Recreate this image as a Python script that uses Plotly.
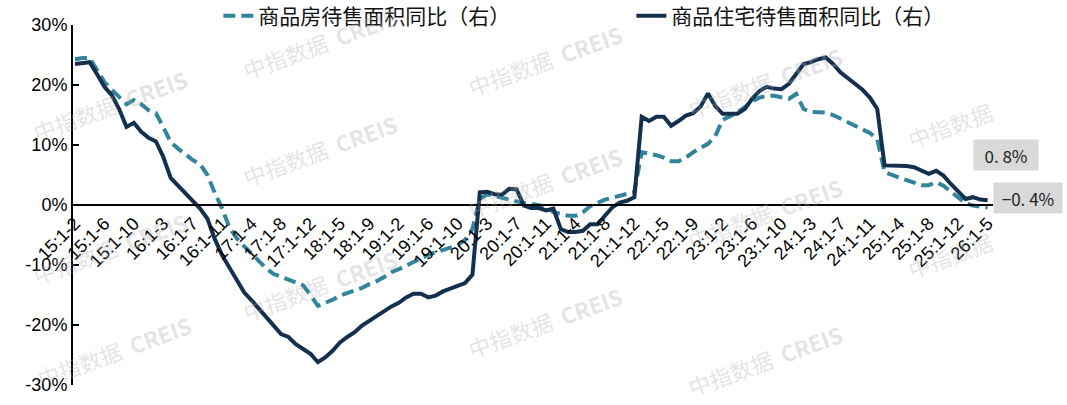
import plotly.graph_objects as go

# ---------------- data ----------------
years = list(range(15, 27))
months = ["1-2", "1-3", "1-4", "1-5", "1-6", "1-7", "1-8", "1-9", "1-10", "1-11", "1-12"]
categories = [f"{y}:{m}" for y in years for m in months][:125]

tick_labels = ["15:1-2", "15:1-6", "15:1-10", "16:1-3", "16:1-7", "16:1-11", "17:1-4", "17:1-8",
               "17:1-12", "18:1-5", "18:1-9", "19:1-2", "19:1-6", "19:1-10", "20:1-3", "20:1-7",
               "20:1-11", "21:1-4", "21:1-8", "21:1-12", "22:1-5", "22:1-9", "23:1-2", "23:1-6",
               "23:1-10", "24:1-3", "24:1-7", "24:1-11", "25:1-4", "25:1-8", "25:1-12", "26:1-5"]

# 商品房待售面积同比 (%)
commercial_yoy = [
    24.3, 24.5, 24.5, 22.5, 20.5, 19.2, 18.0, 16.8, 17.5, 16.8,
    15.8, 15.3, 13.0, 10.5, 9.4, 8.4, 7.5, 6.8, 5.0, 2.0,
    -0.6, -3.8, -5.6, -6.9, -8.1, -9.5, -10.6, -11.5, -12.0, -12.5,
    -13.0, -13.4, -15.0, -16.8, -16.3, -15.8, -15.1, -14.7, -14.3, -13.8,
    -13.2, -12.7, -12.0, -11.2, -10.7, -10.1, -9.5, -8.9, -8.3, -7.9,
    -7.5, -7.1, -6.7, -5.8, -4.0, 1.0, 1.8, 1.5, 1.2, 1.0,
    0.6, 0.3, 0.2, 0.0, -0.3, -1.2, -1.5, -1.8, -1.8, -1.2,
    -0.2, 0.3, 0.9, 1.2, 1.5, 1.8, 2.2, 8.8, 8.6, 8.3,
    7.9, 7.3, 7.3, 7.9, 8.8, 9.5, 10.2, 11.5, 14.2, 14.8,
    15.4, 16.3, 17.3, 17.9, 18.2, 18.2, 18.0, 17.7, 18.5, 16.0,
    15.5, 15.4, 15.4, 15.0, 14.4, 13.9, 13.3, 12.7, 12.0, 11.0,
    5.5, 5.0, 4.6, 4.2, 3.7, 3.3, 3.3, 3.8, 3.2, 2.3,
    1.2, 0.3, -0.1, -0.3, -0.4,
]

# 商品住宅待售面积同比 (%)
residential_yoy = [
    23.5, 23.6, 23.8, 21.8, 19.7, 18.3, 16.0, 13.0, 13.7, 12.2,
    11.2, 10.6, 8.0, 4.5, 3.2, 2.0, 0.8, -0.6, -2.3, -5.7,
    -8.4, -10.4, -12.3, -14.6, -15.9, -17.3, -18.7, -20.1, -21.5, -22.0,
    -23.2, -24.0, -24.8, -26.2, -25.4, -24.3, -22.9, -22.0, -21.2, -20.1,
    -19.3, -18.4, -17.6, -16.9, -16.3, -15.4, -14.8, -14.8, -15.4, -15.1,
    -14.4, -13.9, -13.4, -13.0, -11.6, 2.1, 2.2, 1.8, 1.7, 2.7,
    2.6, -0.1, -0.5, -0.5, -0.9, -0.6, -4.0, -4.5, -4.5, -4.3,
    -3.2, -3.2, -1.8, -0.4, 0.4, 0.7, 1.3, 14.7, 14.0, 14.7,
    14.7, 13.2, 14.0, 14.9, 15.3, 16.4, 18.6, 16.5, 15.2, 15.2,
    15.2, 16.0, 17.7, 19.0, 19.7, 19.4, 19.3, 20.2, 21.8, 23.5,
    23.8, 24.3, 24.6, 23.5, 22.1, 21.1, 20.3, 19.2, 17.9, 16.0,
    6.6, 6.6, 6.5, 6.5, 6.3, 5.7, 5.2, 5.7, 4.9, 3.5,
    2.2, 1.0, 1.3, 0.9, 0.8,
]

series_names = ["商品房待售面积同比（右）", "商品住宅待售面积同比（右）"]
end_labels = ["0. 8%", "−0. 4%"]

y_tick_vals = [-30, -20, -10, 0, 10, 20, 30]
y_tick_text = ["-30%", "-20%", "-10%", "0%", "10%", "20%", "30%"]

# watermark positions (paper coords)
wm_text = "中指数据  <b>CREIS</b>"
wm_positions = [
    (0.040, 0.778), (0.268, 0.950), (0.513, 0.903), (0.752, 0.842),
    (0.040, 0.381), (0.268, 0.653), (0.513, 0.564), (0.752, 0.478),
    (0.045, 0.095), (0.268, 0.278), (0.513, 0.175), (0.752, 0.069),
]
wm_short = [(0.953, 0.722), (0.953, 0.361)]

# ---------------- figure ----------------
LABEL_FONT = "Arial, 'Liberation Sans', sans-serif"
CJK_FONT = "'Noto Sans CJK SC', 'Microsoft YaHei', sans-serif"
WM_COLOR = "rgba(170,170,170,0.33)"

fig = go.Figure()
fig.add_trace(go.Scatter(
    x=categories, y=commercial_yoy, mode="lines", name=series_names[0],
    line=dict(color="#31849B", width=4, dash="12px,6px"),
))
fig.add_trace(go.Scatter(
    x=categories, y=residential_yoy, mode="lines", name=series_names[1],
    line=dict(color="#15304F", width=4),
))

annotations = []
for (px, py) in wm_positions:
    annotations.append(dict(
        x=px, y=py, xref="paper", yref="paper", text=wm_text, showarrow=False,
        xanchor="center", yanchor="middle",
        textangle=-20, font=dict(size=22, color=WM_COLOR, family=CJK_FONT),
    ))
for (px, py) in wm_short:
    annotations.append(dict(
        x=px, y=py, xref="paper", yref="paper", text="中指数据", showarrow=False,
        xanchor="center", yanchor="middle",
        textangle=-20, font=dict(size=22, color=WM_COLOR, family=CJK_FONT),
    ))

last_cat = categories[-1]
annotations.append(dict(
    x=last_cat, y=residential_yoy[-1], xref="x", yref="y", text=end_labels[0],
    showarrow=False, xanchor="left", yanchor="middle", xshift=-15, yshift=45,
    width=56, height=22, align="center",
    bgcolor="#D9D9D9", borderpad=4, font=dict(size=17, color="#222222", family=CJK_FONT),
))
annotations.append(dict(
    x=last_cat, y=commercial_yoy[-1], xref="x", yref="y", text=end_labels[1],
    showarrow=False, xanchor="left", yanchor="middle", xshift=5, yshift=9,
    width=60, height=22, align="center",
    bgcolor="#D9D9D9", borderpad=4, font=dict(size=17, color="#222222", family=CJK_FONT),
))

fig.update_layout(
    width=1067, height=405,
    margin=dict(l=73, r=74, t=25, b=20, autoexpand=False),
    paper_bgcolor="white", plot_bgcolor="white",
    showlegend=True,
    legend=dict(
        orientation="h", x=0.158, y=0.9605, xref="paper", yref="container",
        xanchor="left", yanchor="middle",
        font=dict(size=21, color="#111111", family=CJK_FONT),
        entrywidth=368, entrywidthmode="pixels", bgcolor="rgba(0,0,0,0)",
    ),
    annotations=annotations,
)

fig.update_xaxes(
    type="category", range=[-0.27, 124.73], automargin=False,
    anchor="free", position=0.5,
    showline=True, linecolor="black", linewidth=2,
    ticks="", showgrid=False, zeroline=False,
    tickmode="array", tickvals=tick_labels, ticktext=tick_labels,
    tickangle=-45, tickfont=dict(size=18, color="black", family=LABEL_FONT),
)
fig.update_yaxes(
    range=[-30, 30], automargin=False,
    tickmode="array", tickvals=y_tick_vals, ticktext=y_tick_text,
    showline=True, linecolor="black", linewidth=2,
    ticks="inside", ticklen=6, tickwidth=2, tickcolor="black",
    showgrid=False, zeroline=False,
    tickfont=dict(size=18, color="black", family=LABEL_FONT),
)

fig.write_html(
    "out.html",
    config={"displayModeBar": False},
    post_script="document.body.style.margin='0px';",
)
